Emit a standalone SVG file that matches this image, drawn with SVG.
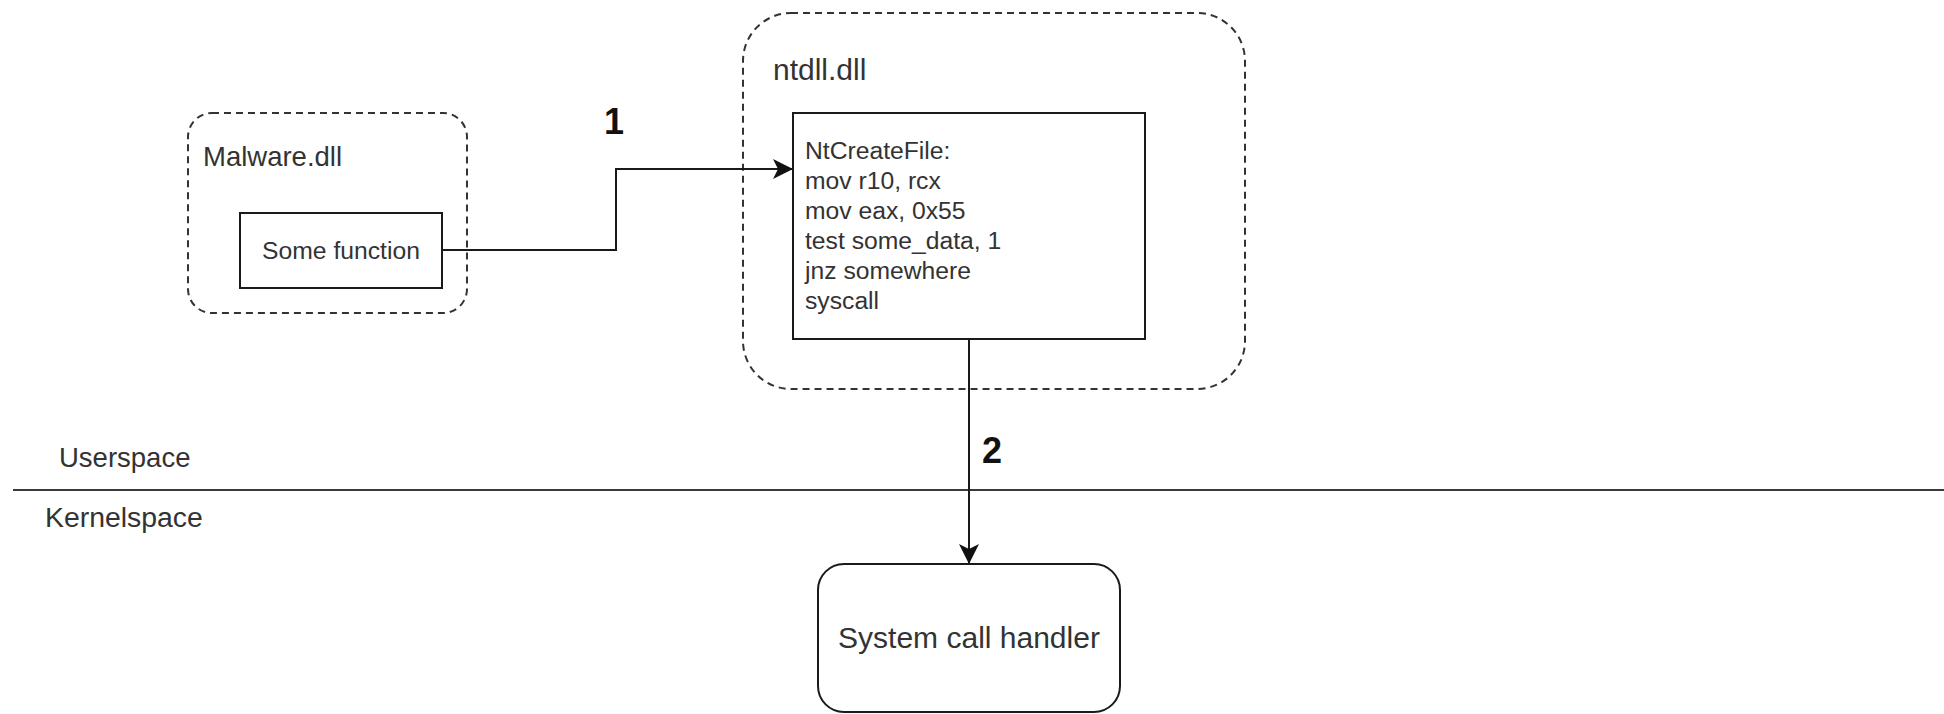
<svg xmlns="http://www.w3.org/2000/svg" width="1944" height="714" viewBox="0 0 1944 714">
  <style>
    .bg { fill: #ffffff; }
    .module { fill: none; stroke: #333333; stroke-width: 2; stroke-dasharray: 7 5; }
    .box { fill: #ffffff; stroke: #1a1a1a; stroke-width: 2; }
    .edge { fill: none; stroke: #1a1a1a; stroke-width: 2; }
    .title { font-family: "Liberation Sans", Arial, sans-serif; font-size: 30px; fill: #333333; }
    .body { font-family: "Liberation Sans", Arial, sans-serif; font-size: 24.7px; fill: #333333; }
    .zone { font-family: "Liberation Sans", Arial, sans-serif; font-size: 27.5px; fill: #333333; }
    .step { font-family: "Liberation Sans", Arial, sans-serif; font-size: 36px; font-weight: bold; fill: #111111; }
    .sep { stroke: #3a3a3a; stroke-width: 2; }
  </style>
  <defs>
    <marker id="arrow" viewBox="0 0 20 20" refX="20" refY="10" markerWidth="20" markerHeight="20" markerUnits="userSpaceOnUse" orient="auto">
      <path d="M20,10 L0,0 L5,10 L0,20 Z" fill="#111111"/>
    </marker>
  </defs>

  <rect class="bg" x="0" y="0" width="1944" height="714"/>

  <!-- user / kernel boundary -->
  <g id="boundary">
    <line class="sep" x1="13" y1="490" x2="1944" y2="490"/>
    <text class="zone" x="59" y="467">Userspace</text>
    <text class="zone" x="45" y="527" style="font-size:28.4px">Kernelspace</text>
  </g>

  <!-- Malware.dll module -->
  <g id="malware-dll">
    <rect class="module" x="188" y="113" width="279" height="200" rx="24" ry="24"/>
    <text class="title" x="203" y="166" style="font-size:27.5px">Malware.dll</text>
  </g>
  <g id="some-function">
    <rect class="box" x="240" y="213" width="202" height="75"/>
    <text class="body" x="341" y="259" text-anchor="middle">Some function</text>
  </g>

  <!-- ntdll.dll module -->
  <g id="ntdll-dll">
    <rect class="module" x="743" y="13" width="502" height="376" rx="48" ry="48"/>
    <text class="title" x="773" y="80">ntdll.dll</text>
  </g>
  <g id="ntcreatefile">
    <rect class="box" x="793" y="113" width="352" height="226"/>
    <text class="body" x="805" y="159">NtCreateFile:</text>
    <text class="body" x="805" y="189">mov r10, rcx</text>
    <text class="body" x="805" y="219">mov eax, 0x55</text>
    <text class="body" x="805" y="249">test some_data, 1</text>
    <text class="body" x="805" y="279">jnz somewhere</text>
    <text class="body" x="805" y="309">syscall</text>
  </g>

  <!-- kernel side -->
  <g id="syscall-handler">
    <rect class="box" x="818" y="564" width="302" height="148" rx="26" ry="26"/>
    <text class="title" x="969" y="648" text-anchor="middle">System call handler</text>
  </g>

  <!-- connectors -->
  <g id="connectors">
    <path class="edge" d="M442,250 H616 V169 H793" marker-end="url(#arrow)"/>
    <text class="step" x="604" y="134">1</text>
    <path class="edge" d="M969,339 V564" marker-end="url(#arrow)"/>
    <text class="step" x="982" y="463">2</text>
  </g>
</svg>
